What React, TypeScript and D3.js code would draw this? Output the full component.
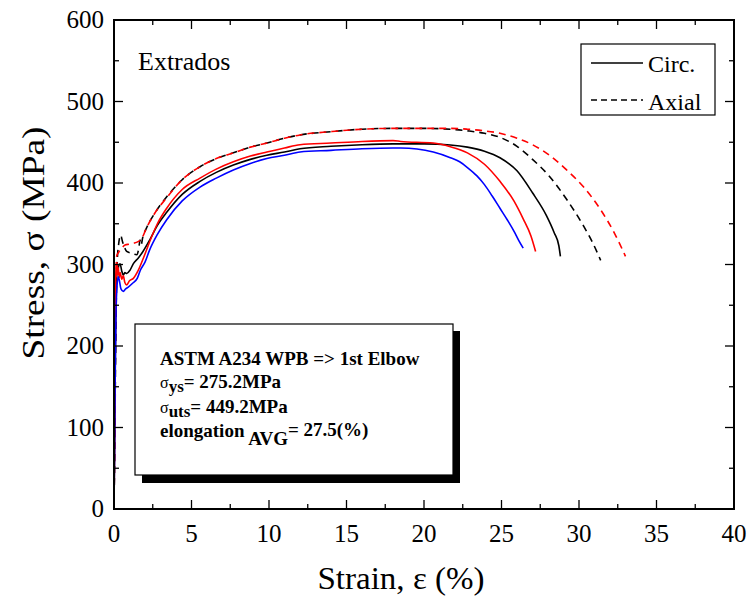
import React from "react";
import * as d3 from "d3";

// ---- data ----
const blackSolidStrain = [0, 0.05, 0.1, 0.15, 0.2, 0.25, 0.3, 0.39, 0.5, 0.6, 0.7, 0.82, 1.03, 1.25, 1.57, 1.87, 2.3, 2.8, 3.4, 4.4, 5.55, 6.6, 7.7, 8.8, 9.86, 11, 12, 14, 16, 18, 20, 21.7, 22.8, 23.9, 24.9, 26.0, 27.0, 27.9, 28.4, 28.7, 28.8];
const blackSolidStress = [0, 100, 220, 290, 300, 292, 298, 301, 292, 287, 290, 289, 293, 301, 308, 316, 330, 348, 364, 386, 402, 413, 422, 429, 434, 438, 442, 445, 447, 448, 448, 446.6, 444, 439, 431, 415, 388, 360, 339, 323, 310];

const redSolidStrain = [0, 0.04, 0.08, 0.11, 0.14, 0.17, 0.2, 0.24, 0.28, 0.33, 0.4, 0.5, 0.6, 0.7, 0.82, 1.0, 1.25, 1.57, 1.9, 2.3, 2.8, 3.4, 4.4, 5.55, 6.6, 7.7, 8.8, 9.86, 11, 12, 14, 16, 18, 18.5, 20.6, 21.7, 22.8, 23.9, 24.9, 25.8, 26.4, 26.9, 27.2];
const redSolidStress = [0, 90, 200, 280, 300, 285, 302, 288, 296, 284, 290, 282, 286, 278, 275, 280, 283, 293, 308, 328, 350, 369, 392, 406, 417, 426, 433, 438, 443, 447, 449, 451, 452, 451, 449, 444.5, 437, 423, 402, 378, 356, 335, 316];

const blueSolidStrain = [0, 0.04, 0.08, 0.13, 0.2, 0.28, 0.36, 0.45, 0.6, 0.75, 0.9, 1.2, 1.5, 1.7, 2.0, 2.3, 2.8, 3.4, 4.4, 5.55, 6.6, 7.7, 8.8, 9.86, 11, 12, 14, 16, 18, 18.5, 20.6, 21.7, 22.3, 22.8, 23.4, 23.9, 24.4, 24.9, 25.4, 25.8, 26.1, 26.4];
const blueSolidStress = [0, 80, 170, 240, 275, 285, 279, 270, 267, 270, 272, 277, 283, 293, 303, 318, 337, 355, 378, 395, 406, 416, 424, 430, 434, 438, 440, 442, 443, 443, 438, 431, 426, 419, 409, 398, 384, 369, 354, 341, 330, 320];

const blackDashStrain = [0, 0.06, 0.12, 0.2, 0.3, 0.43, 0.55, 0.7, 0.82, 1.1, 1.47, 1.6, 1.68, 1.75, 1.85, 2.1, 2.6, 3.4, 4.4, 5.55, 6.6, 7.7, 8.8, 9.86, 11, 12, 14, 16, 18, 20, 21.7, 22.8, 23.9, 24.9, 26.0, 27.0, 28.1, 29.2, 30.3, 30.9, 31.4];
const blackDashStress = [0, 100, 220, 300, 325, 336, 328, 320, 316, 314, 312, 320, 330, 324, 333, 345, 362, 383, 404, 420, 430, 437, 444, 449, 455, 459, 463, 466, 467, 467, 466, 464, 461, 456, 445, 429, 408, 380, 347, 326, 305];

const redDashStrain = [0, 0.05, 0.1, 0.17, 0.3, 0.5, 0.71, 1.0, 1.25, 1.55, 1.79, 2.1, 2.6, 3.4, 4.4, 5.55, 6.6, 7.7, 8.8, 9.86, 11, 12, 14, 16, 18, 20, 21.7, 22.8, 23.9, 24.9, 26.0, 27.0, 28.1, 29.2, 30.3, 31.4, 32.3, 33.0];
const redDashStress = [0, 100, 230, 310, 315, 320, 324, 325, 326, 328, 332, 345, 362, 382, 404, 420, 430, 437, 444, 449, 455, 459, 463, 466, 467, 467, 467, 466, 464, 461, 455, 447, 434, 416, 395, 367, 338, 310];

const xTicks = [0, 5, 10, 15, 20, 25, 30, 35, 40];
const yTicks = [0, 100, 200, 300, 400, 500, 600];
const legendLabels = ["Circ.", "Axial"];

const FONT = "'Liberation Serif', 'Times New Roman', serif";

export default function App() {
  const left = 114, right = 734, top = 20, bottom = 509;
  const x = d3.scaleLinear().domain([0, 40]).range([left, right]);
  const y = d3.scaleLinear().domain([0, 600]).range([bottom, top]);

  const mk = (xs: number[], ys: number[]) =>
    d3
      .line<number>()
      .x((_, i) => x(xs[i]))
      .y((_, i) => y(ys[i]))
      .curve(d3.curveMonotoneX)(xs.map((v) => v)) as string;

  const series = [
    { xs: blackDashStrain, ys: blackDashStress, color: "#000", dash: "7,5" },
    { xs: redDashStrain, ys: redDashStress, color: "#ff0000", dash: "7,5" },
    { xs: blackSolidStrain, ys: blackSolidStress, color: "#000", dash: null },
    { xs: redSolidStrain, ys: redSolidStress, color: "#ff0000", dash: null },
    { xs: blueSolidStrain, ys: blueSolidStress, color: "#0000ff", dash: null },
  ];

  const xMinor = d3.range(0, 40.01, 2.5);
  const yMinor = d3.range(0, 600.01, 50);

  return (
    <svg
      width={749}
      height={604}
      style={{ position: "absolute", left: 0, top: 0, background: "#fff" }}
      fontFamily={FONT}
    >
      <rect x={0} y={0} width={749} height={604} fill="#fff" />
      {/* curves */}
      <g fill="none" strokeWidth={1.6}>
        {series.map((s, i) => (
          <path
            key={i}
            d={mk(s.xs, s.ys)}
            stroke={s.color}
            strokeDasharray={s.dash || undefined}
          />
        ))}
      </g>

      {/* ticks */}
      <g stroke="#000" strokeWidth={1.3}>
        {xMinor.map((v, i) => {
          const major = Math.abs(v % 5) < 1e-6;
          const len = major ? 9 : 5;
          return (
            <g key={"xt" + i}>
              <line x1={x(v)} x2={x(v)} y1={bottom} y2={bottom - len} />
              <line x1={x(v)} x2={x(v)} y1={top} y2={top + len} />
            </g>
          );
        })}
        {yMinor.map((v, i) => {
          const major = Math.abs(v % 100) < 1e-6;
          const len = major ? 9 : 5;
          return (
            <g key={"yt" + i}>
              <line x1={left} x2={left + len} y1={y(v)} y2={y(v)} />
              <line x1={right} x2={right - len} y1={y(v)} y2={y(v)} />
            </g>
          );
        })}
      </g>
      <rect x={left} y={top} width={right - left} height={bottom - top} fill="none" stroke="#000" strokeWidth={2} />

      {/* tick labels */}
      <g fontSize={25} fill="#000">
        {xTicks.map((v) => (
          <text key={"xl" + v} x={x(v)} y={542} textAnchor="middle">
            {v}
          </text>
        ))}
        {yTicks.map((v) => (
          <text key={"yl" + v} x={104} y={y(v) + 8} textAnchor="end">
            {v}
          </text>
        ))}
      </g>

      {/* axis titles */}
      <text x={401} y={589} fontSize={31} textAnchor="middle" textLength={167} lengthAdjust="spacingAndGlyphs">
        Strain, ε (%)
      </text>
      <text
        transform={`translate(44,243) rotate(-90)`}
        fontSize={32}
        textAnchor="middle"
        textLength={233}
        lengthAdjust="spacingAndGlyphs"
      >
        Stress, σ (MPa)
      </text>

      {/* Extrados */}
      <text x={138} y={70} fontSize={26}>
        Extrados
      </text>

      {/* legend */}
      <rect x={581} y={44} width={134} height={71} fill="#fff" stroke="#000" strokeWidth={1.2} />
      <line x1={591} x2={643} y1={63} y2={63} stroke="#000" strokeWidth={1.5} />
      <text x={648} y={72} fontSize={24}>
        {legendLabels[0]}
      </text>
      <line x1={591} x2={643} y1={100} y2={100} stroke="#000" strokeWidth={1.5} strokeDasharray="6,4" />
      <text x={648} y={110} fontSize={24}>
        {legendLabels[1]}
      </text>

      {/* annotation box */}
      <rect x={142} y={331} width={318} height={152} fill="#000" />
      <rect x={135} y={324} width={318} height={151} fill="#fff" stroke="#000" strokeWidth={1.2} />
      <g fontWeight="bold" fontSize={19}>
        <text x={160} y={365}>ASTM A234 WPB =&gt; 1st Elbow</text>
        <text x={160} y={388}>
          <tspan fontWeight="normal" fontSize={16}>σ</tspan>
          <tspan fontSize={17} dy={4}>ys</tspan>
          <tspan dy={-4}>= 275.2MPa</tspan>
        </text>
        <text x={160} y={413}>
          <tspan fontWeight="normal" fontSize={16}>σ</tspan>
          <tspan fontSize={17} dy={4}>uts</tspan>
          <tspan dy={-4}>= 449.2MPa</tspan>
        </text>
        <text x={160} y={437}>
          <tspan>elongation</tspan>
          <tspan dy={8}> AVG</tspan>
          <tspan dy={-9}>= 27.5(%)</tspan>
        </text>
      </g>
    </svg>
  );
}
